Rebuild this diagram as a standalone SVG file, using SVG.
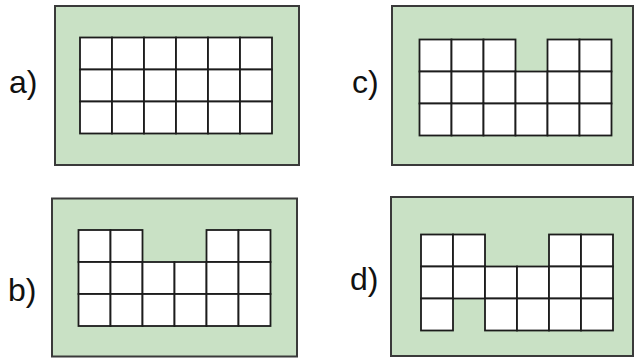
<svg xmlns="http://www.w3.org/2000/svg" xmlns:xlink="http://www.w3.org/1999/xlink" width="635" height="360" viewBox="0 0 635 360">
<style>
.panel{fill:#c9e1c5;stroke:#3a3a3a;stroke-width:2}
.lbl{font-family:"Liberation Sans",Arial,sans-serif;font-size:32px;fill:#111}
</style>
<defs>
<rect id="cell" width="32" height="32" fill="#fff" stroke="#1c1c1c" stroke-width="1.8"/>
</defs>
<rect width="635" height="360" fill="#fff"/>
<g id="panel-a">
<rect class="panel" x="55" y="6" width="244" height="159"/>
<text class="lbl" x="9" y="93">a)</text>
<g transform="translate(80,37.5)">
<use href="#cell" x="0" y="0"/><use href="#cell" x="32" y="0"/><use href="#cell" x="64" y="0"/><use href="#cell" x="96" y="0"/><use href="#cell" x="128" y="0"/><use href="#cell" x="160" y="0"/>
<use href="#cell" x="0" y="32"/><use href="#cell" x="32" y="32"/><use href="#cell" x="64" y="32"/><use href="#cell" x="96" y="32"/><use href="#cell" x="128" y="32"/><use href="#cell" x="160" y="32"/>
<use href="#cell" x="0" y="64"/><use href="#cell" x="32" y="64"/><use href="#cell" x="64" y="64"/><use href="#cell" x="96" y="64"/><use href="#cell" x="128" y="64"/><use href="#cell" x="160" y="64"/>
</g>
</g>
<g id="panel-c">
<rect class="panel" x="392" y="6" width="241" height="159"/>
<text class="lbl" x="352" y="93">c)</text>
<g transform="translate(419.5,39.5)">
<use href="#cell" x="0" y="0"/><use href="#cell" x="32" y="0"/><use href="#cell" x="64" y="0"/><use href="#cell" x="128" y="0"/><use href="#cell" x="160" y="0"/>
<use href="#cell" x="0" y="32"/><use href="#cell" x="32" y="32"/><use href="#cell" x="64" y="32"/><use href="#cell" x="96" y="32"/><use href="#cell" x="128" y="32"/><use href="#cell" x="160" y="32"/>
<use href="#cell" x="0" y="64"/><use href="#cell" x="32" y="64"/><use href="#cell" x="64" y="64"/><use href="#cell" x="96" y="64"/><use href="#cell" x="128" y="64"/><use href="#cell" x="160" y="64"/>
</g>
</g>
<g id="panel-b">
<rect class="panel" x="52" y="198.5" width="245" height="158"/>
<text class="lbl" x="8" y="301">b)</text>
<g transform="translate(78.5,230)">
<use href="#cell" x="0" y="0"/><use href="#cell" x="32" y="0"/><use href="#cell" x="128" y="0"/><use href="#cell" x="160" y="0"/>
<use href="#cell" x="0" y="32"/><use href="#cell" x="32" y="32"/><use href="#cell" x="64" y="32"/><use href="#cell" x="96" y="32"/><use href="#cell" x="128" y="32"/><use href="#cell" x="160" y="32"/>
<use href="#cell" x="0" y="64"/><use href="#cell" x="32" y="64"/><use href="#cell" x="64" y="64"/><use href="#cell" x="96" y="64"/><use href="#cell" x="128" y="64"/><use href="#cell" x="160" y="64"/>
</g>
</g>
<g id="panel-d">
<rect class="panel" x="391" y="197" width="242" height="159"/>
<text class="lbl" x="350" y="290">d)</text>
<g transform="translate(421,234.5)">
<use href="#cell" x="0" y="0"/><use href="#cell" x="32" y="0"/><use href="#cell" x="128" y="0"/><use href="#cell" x="160" y="0"/>
<use href="#cell" x="0" y="32"/><use href="#cell" x="32" y="32"/><use href="#cell" x="64" y="32"/><use href="#cell" x="96" y="32"/><use href="#cell" x="128" y="32"/><use href="#cell" x="160" y="32"/>
<use href="#cell" x="0" y="64"/><use href="#cell" x="64" y="64"/><use href="#cell" x="96" y="64"/><use href="#cell" x="128" y="64"/><use href="#cell" x="160" y="64"/>
</g>
</g>
</svg>
